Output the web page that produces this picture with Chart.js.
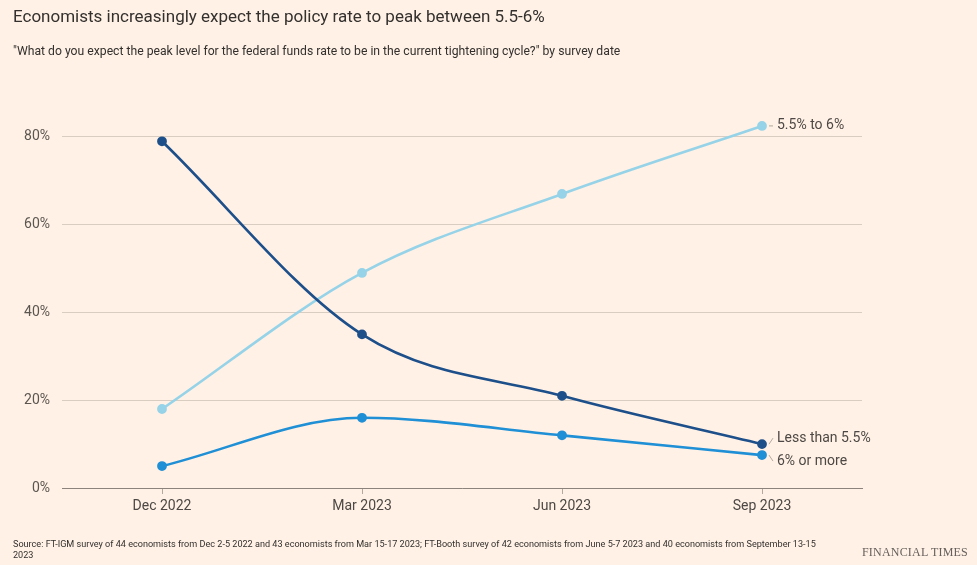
<!DOCTYPE html>
<html>
<head>
<meta charset="utf-8">
<script src="https://cdn.jsdelivr.net/npm/chart.js@4"></script>
<style>
  html, body { margin: 0; padding: 0; background: #fff1e5; }
  body { width: 977px; height: 565px; position: relative; overflow: hidden; font-family: Roboto, "Open Sans", sans-serif; color: #33302e; }
  #wrap { position: absolute; left: 0; top: 0; width: 977px; height: 565px; }
  .title { position: absolute; left: 13px; top: 6px; font-size: 17px; color: #33302e; }
  .sub { position: absolute; left: 13px; top: 44px; font-size: 12.2px; color: #33302e; }
  .src { position: absolute; left: 13px; top: 539px; width: 825px; font-size: 9.1px; line-height: 11px; color: #33302e; }
  .ft { position: absolute; right: 9px; top: 545px; font-family: "Liberation Serif", serif; font-size: 12px; color: #66605c; letter-spacing: 0.2px; }
</style>
</head>
<body>
<div id="wrap"><canvas id="chart"></canvas></div>
<div class="title">Economists increasingly expect the policy rate to peak between 5.5-6%</div>
<div class="sub">"What do you expect the peak level for the federal funds rate to be in the current tightening cycle?" by survey date</div>
<div class="src">Source: FT-IGM survey of 44 economists from Dec 2-5 2022 and 43 economists from Mar 15-17 2023; FT-Booth survey of 42 economists from June 5-7 2023 and 40 economists from September 13-15 2023</div>
<div class="ft">FINANCIAL TIMES</div>
<script>
const categories = ['Dec 2022', 'Mar 2023', 'Jun 2023', 'Sep 2023'];
const lessThan55 = [79, 35, 21, 10];
const between55and6 = [18, 49, 67, 82.5];
const sixOrMore = [5, 16, 12, 7.5];
const yTicks = [0, 20, 40, 60, 80];

const seriesNames = ['Less than 5.5%', '5.5% to 6%', '6% or more'];
const seriesColors = ['#1d4f8a', '#96d3e8', '#1f8fd6'];
// vertical nudge for the end labels so they don't collide
const labelNudge = [-6, 0, 6];

// end-of-line labels
const endLabels = {
    id: 'endLabels',
    afterDatasetsDraw(chart) {
        const ctx = chart.ctx;
        ctx.save();
        ctx.font = '14px Roboto, "Open Sans", sans-serif';
        ctx.fillStyle = '#4d4845';
        ctx.textBaseline = 'middle';
        chart.data.datasets.forEach((ds, i) => {
            const meta = chart.getDatasetMeta(i);
            const pt = meta.data[meta.data.length - 1];
            const ly = pt.y + labelNudge[i];
            ctx.strokeStyle = '#b3a99f';
            ctx.lineWidth = 1;
            ctx.beginPath();
            ctx.moveTo(pt.x + 7, pt.y);
            ctx.lineTo(pt.x + 11, ly);
            ctx.stroke();
            ctx.fillText(ds.label, pt.x + 15, ly);
        });
        ctx.restore();
    }
};

const ctx = document.getElementById('chart');
new Chart(ctx, {
    type: 'line',
    data: {
        labels: categories,
        datasets: [lessThan55, between55and6, sixOrMore].map((d, i) => ({
            label: seriesNames[i],
            data: d,
            borderColor: seriesColors[i],
            backgroundColor: seriesColors[i],
            borderWidth: 2.6,
            pointRadius: 3.6,
            pointHoverRadius: 3.6,
            cubicInterpolationMode: 'monotone',
            fill: false
        }))
    },
    options: {
        responsive: true,
        maintainAspectRatio: false,
        animation: false,
        layout: { padding: { top: 93, right: 115, bottom: 47, left: 0 } },
        plugins: {
            legend: { display: false },
            tooltip: { enabled: false }
        },
        scales: {
            x: {
                offset: true,
                grid: {
                    offset: false,
                    drawOnChartArea: false,
                    drawTicks: true,
                    tickLength: 6,
                    color: '#b3a99f'
                },
                border: { display: true, color: '#8c837c', width: 1 },
                ticks: {
                    color: '#4d4845',
                    font: { size: 14, family: 'Roboto, "Open Sans", sans-serif' },
                    padding: 4,
                    maxRotation: 0
                },
                afterFit: scale => { scale.height = 30; }
            },
            y: {
                min: 0,
                max: 90,
                afterBuildTicks: scale => {
                    scale.ticks = yTicks.map(v => ({ value: v }));
                },
                grid: {
                    drawTicks: false,
                    color: '#d9cdc2'
                },
                border: { display: false },
                ticks: {
                    color: '#5c5651',
                    padding: 12,
                    font: { size: 14, family: 'Roboto, "Open Sans", sans-serif' },
                    callback: v => v + '%'
                },
                afterFit: scale => { scale.width = 62; }
            }
        }
    },
    plugins: [endLabels]
});
</script>
</body>
</html>
